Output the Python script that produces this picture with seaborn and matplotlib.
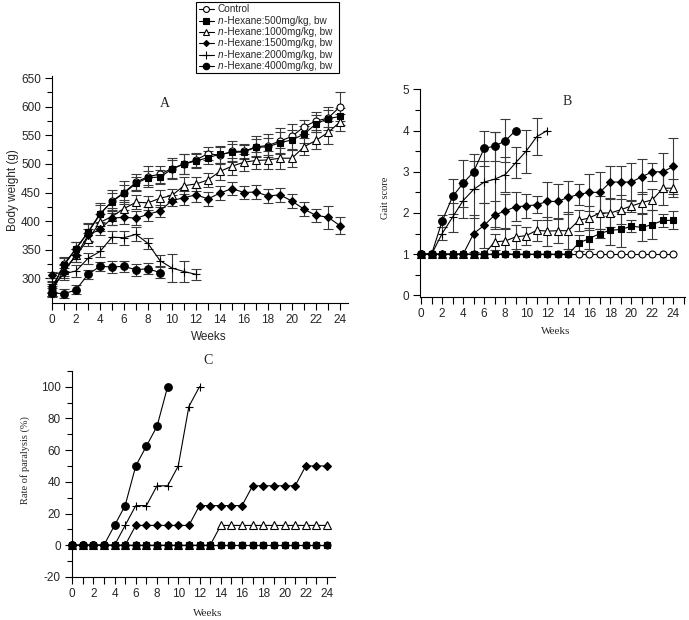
import numpy as np
import pandas as pd
import seaborn as sns
import matplotlib
matplotlib.use("Agg")
import matplotlib.pyplot as plt
from matplotlib.lines import Line2D
from matplotlib.patches import Rectangle
from matplotlib.ticker import MultipleLocator

# ---------------- data ----------------
groups = ["Control", "500", "1000", "1500", "2000", "4000"]
legend_labels = ["Control",
                 "n-Hexane:500mg/kg, bw",
                 "n-Hexane:1000mg/kg, bw",
                 "n-Hexane:1500mg/kg, bw",
                 "n-Hexane:2000mg/kg, bw",
                 "n-Hexane:4000mg/kg, bw"]

# Panel A: body weight (g)
bw_control = [280, 325, 352, 380, 412, 435, 450, 468, 478, 482, 492, 500, 507, 518, 515, 522, 522, 530, 532, 540, 548, 565, 575, 580, 600]
bw_500 = [285, 323, 352, 381, 413, 434, 449, 466, 476, 477, 491, 500, 505, 511, 517, 520, 521, 529, 530, 537, 542, 552, 570, 579, 583]
bw_1000 = [278, 315, 340, 368, 398, 408, 422, 433, 432, 440, 445, 462, 465, 472, 487, 496, 503, 506, 507, 510, 510, 530, 541, 555, 573]
bw_1500 = [306, 312, 340, 375, 386, 405, 407, 405, 412, 418, 436, 441, 446, 439, 449, 457, 450, 451, 444, 446, 435, 421, 410, 407, 392]
bw_2000 = [285, 308, 313, 335, 347, 372, 371, 377, 361, 331, 318, 312, 307]
bw_4000 = [275, 273, 280, 307, 321, 320, 321, 315, 317, 310]

bw_err_control = [10, 12, 12, 15, 20, 20, 20, 15, 18, 15, 18, 18, 12, 12, 15, 18, 12, 18, 20, 22, 22, 12, 15, 20, 25]
bw_err_500 = [10, 12, 12, 15, 15, 15, 15, 12, 12, 12, 15, 18, 12, 12, 15, 15, 12, 15, 15, 18, 18, 15, 15, 15, 15]
bw_err_1000 = [8, 10, 12, 12, 15, 15, 15, 12, 12, 15, 12, 15, 12, 12, 15, 15, 15, 15, 15, 18, 15, 15, 15, 20, 15]
bw_err_1500 = [5, 12, 12, 12, 10, 12, 12, 12, 12, 10, 10, 12, 12, 12, 12, 12, 12, 12, 12, 12, 12, 12, 12, 20, 15]
bw_err_2000 = [8, 10, 10, 10, 10, 10, 12, 12, 10, 10, 25, 18, 10]
bw_err_4000 = [8, 8, 8, 8, 8, 10, 10, 10, 10, 10]

# Panel B: gait score
gs_control = [1] * 25
gs_500 = [1, 1, 1, 1, 1, 1, 1, 1, 1, 1, 1, 1, 1, 1, 1, 1.27, 1.38, 1.5, 1.58, 1.6, 1.68, 1.65, 1.72, 1.82, 1.82]
gs_1000 = [1, 1, 1, 1, 1, 1, 1, 1.3, 1.32, 1.42, 1.45, 1.58, 1.56, 1.57, 1.57, 1.82, 1.88, 2.0, 2.0, 2.08, 2.17, 2.25, 2.32, 2.6, 2.6]
gs_1500 = [1, 1, 1, 1, 1, 1.5, 1.7, 1.95, 2.05, 2.15, 2.17, 2.2, 2.28, 2.28, 2.38, 2.45, 2.5, 2.5, 2.75, 2.75, 2.75, 2.88, 3.0, 3.0, 3.13]
gs_2000 = [1, 1, 1.5, 1.9, 2.3, 2.57, 2.75, 2.82, 2.93, 3.22, 3.5, 3.85, 4.0]
gs_4000 = [1, 1, 1.8, 2.4, 2.72, 3.0, 3.57, 3.62, 3.75, 4.0]

gs_err_control = [0] * 25
gs_err_500 = [0] * 15 + [0.2, 0.25, 0.1, 0.35, 0.42, 0.15, 0.32, 0.35, 0.15, 0.22]
gs_err_1000 = [0] * 7 + [0.2, 0.3, 0.3, 0.22, 0.25, 0.35, 0.3, 0.45, 0.25, 0.3, 0.4, 0.35, 0.35, 0.15, 0.25, 0.25, 0.4, 0.22]
gs_err_1500 = [0] * 5 + [0.45, 0.55, 0.35, 0.42, 0.35, 0.28, 0.2, 0.46, 0.42, 0.4, 0.25, 0.45, 0.5, 0.38, 0.4, 0.45, 0.42, 0.22, 0.45, 0.68]
gs_err_2000 = [0, 0, 0.15, 0.35, 0.42, 0.7, 0.5, 1.15, 0.42, 0.38, 0.52, 0.45, 0]
gs_err_4000 = [0, 0, 0.15, 0.42, 0.57, 0.42, 0.42, 0.35, 0.52, 0]

# Panel C: rate of paralysis (%)
rp_control = [0] * 25
rp_500 = [0] * 25
rp_1000 = [0] * 14 + [12.5] * 11
rp_1500 = [0] * 6 + [12.5] * 6 + [25] * 5 + [37.5] * 5 + [50] * 3
rp_2000 = [0, 0, 0, 0, 0, 12.5, 25, 25, 37.5, 37.5, 50, 87.5, 100]
rp_4000 = [0, 0, 0, 0, 12.5, 25, 50, 62.5, 75, 100]

bw = dict(zip(groups, [bw_control, bw_500, bw_1000, bw_1500, bw_2000, bw_4000]))
bw_err = dict(zip(groups, [bw_err_control, bw_err_500, bw_err_1000, bw_err_1500, bw_err_2000, bw_err_4000]))
gs = dict(zip(groups, [gs_control, gs_500, gs_1000, gs_1500, gs_2000, gs_4000]))
gs_err = dict(zip(groups, [gs_err_control, gs_err_500, gs_err_1000, gs_err_1500, gs_err_2000, gs_err_4000]))
rp = dict(zip(groups, [rp_control, rp_500, rp_1000, rp_1500, rp_2000, rp_4000]))

# ---------------- style ----------------
sns.set_theme(style="ticks")
SANS = "Liberation Sans"
SERIF = "Liberation Serif"
plt.rcParams["font.family"] = [SANS, "DejaVu Sans"]
plt.rcParams["axes.unicode_minus"] = False

mstyle = {
    "Control": dict(marker="o", markerfacecolor="white", markersize=5.0),
    "500": dict(marker="s", markerfacecolor="black", markersize=5.0),
    "1000": dict(marker="^", markerfacecolor="white", markersize=5.5),
    "1500": dict(marker="D", markerfacecolor="black", markersize=3.6),
    "2000": dict(marker="+", markerfacecolor="black", markersize=6.0),
    "4000": dict(marker="o", markerfacecolor="black", markersize=5.5),
}
draw_order = ["Control", "1000", "1500", "2000", "4000", "500"]

W, H = 689, 620
fig = plt.figure(figsize=(6.89, 6.2), dpi=100)
axA = fig.add_axes([0.0755, 0.5113, 0.4296, 0.366])
axB = fig.add_axes([0.6096, 0.5215, 0.3846, 0.3345])
axC = fig.add_axes([0.1045, 0.0689, 0.3817, 0.333])


def draw(ax, values, errs=None):
    for g in draw_order:
        y = np.array(values[g], dtype=float)
        x = np.arange(len(y))
        if errs is not None:
            e = np.array(errs[g], dtype=float)
            m = e > 0
            if m.any():
                ax.errorbar(x[m], y[m], yerr=e[m], fmt="none", ecolor="#3a3a3a",
                            elinewidth=0.8, capsize=3.5, capthick=0.8, zorder=2,
                            clip_on=False)
        sns.lineplot(x=x, y=y, ax=ax, color="black", linewidth=0.8,
                     markeredgecolor="black", markeredgewidth=0.8,
                     zorder=3, clip_on=False, **mstyle[g])


draw(axA, bw, bw_err)
draw(axB, gs, gs_err)
draw(axC, rp)

axA.set_xlim(0, 24.67)
axA.set_ylim(257, 653.5)
axA.set_yticks(np.arange(300, 651, 50))
axA.yaxis.set_minor_locator(MultipleLocator(25))

axB.set_xlim(-0.1, 25.1)
axB.set_ylim(-0.03, 5.0)
axB.set_yticks(np.arange(0, 6, 1))
axB.yaxis.set_minor_locator(MultipleLocator(0.5))

axC.set_xlim(0, 24.75)
axC.set_ylim(-20.2, 110)
axC.set_yticks(np.arange(-20, 101, 20))
axC.yaxis.set_minor_locator(MultipleLocator(10))

for ax in (axA, axB, axC):
    sns.despine(ax=ax)
    ax.xaxis.set_major_locator(MultipleLocator(2))
    ax.xaxis.set_minor_locator(MultipleLocator(1))
    ax.tick_params(which="major", direction="out", length=5, width=0.8,
                   labelsize=8.5, pad=3, color="black")
    ax.tick_params(which="minor", direction="out", length=3.5, width=0.8, color="black")
    ax.tick_params(axis="x", which="minor", length=5)
    for s in ax.spines.values():
        s.set_linewidth(0.8)
        s.set_color("black")
    ax.set_xlabel("")
    ax.set_ylabel("")

# panel letters
axA.text(0.38, 0.877, "A", transform=axA.transAxes, ha="center", va="center",
         family=SERIF, fontsize=10)
axB.text(0.555, 0.939, "B", transform=axB.transAxes, ha="center", va="center",
         family=SERIF, fontsize=10)
axC.text(0.517, 1.052, "C", transform=axC.transAxes, ha="center", va="center",
         family=SERIF, fontsize=10)


def ftext(x, y, s, **kw):
    kw.setdefault("ha", "center")
    kw.setdefault("va", "center")
    return fig.text(x / W, 1 - y / H, s, **kw)

ftext(209, 337, "Weeks", family=SANS, fontsize=8.5)
ftext(13, 190, "Body weight (g)", family=SANS, fontsize=8.5, rotation=90)
ftext(556, 332, "Weeks", family=SERIF, fontsize=8)
ftext(385, 198, "Gait score", family=SERIF, fontsize=7.5, rotation=90)
ftext(208, 613, "Weeks", family=SERIF, fontsize=8)
ftext(25, 460, "Rate of paralysis (%)", family=SERIF, fontsize=7.5, rotation=90)

# legend (drawn as a boxed key so the leading "n" can be italic)
renderer = fig.canvas.get_renderer()
fig.add_artist(Rectangle((196 / W, 1 - 73 / H), (339 - 196) / W, 71 / H,
                         transform=fig.transFigure, fill=False,
                         edgecolor="black", linewidth=0.8))
LFS = 7.2
for i, (g, lab) in enumerate(zip(groups, legend_labels)):
    yc = 9.3 + i * 11.3
    yf = 1 - yc / H
    fig.add_artist(Line2D([199 / W, 214 / W], [yf, yf], transform=fig.transFigure,
                          color="black", linewidth=0.8))
    st = dict(mstyle[g])
    st["markersize"] = st["markersize"] * 0.85
    fig.add_artist(Line2D([206 / W], [yf], transform=fig.transFigure, color="black",
                          linestyle="none", markeredgecolor="black",
                          markeredgewidth=0.8, **st))
    x0 = 218
    if lab.startswith("n-"):
        t = ftext(x0, yc, "n", ha="left", family=SANS, style="italic", fontsize=LFS)
        w = t.get_window_extent(renderer).width
        ftext(x0 + w + 0.4, yc, lab[1:], ha="left", family=SANS, fontsize=LFS)
    else:
        ftext(x0, yc, lab, ha="left", family=SANS, fontsize=LFS)

fig.savefig("out.png", dpi=100, facecolor="white")
